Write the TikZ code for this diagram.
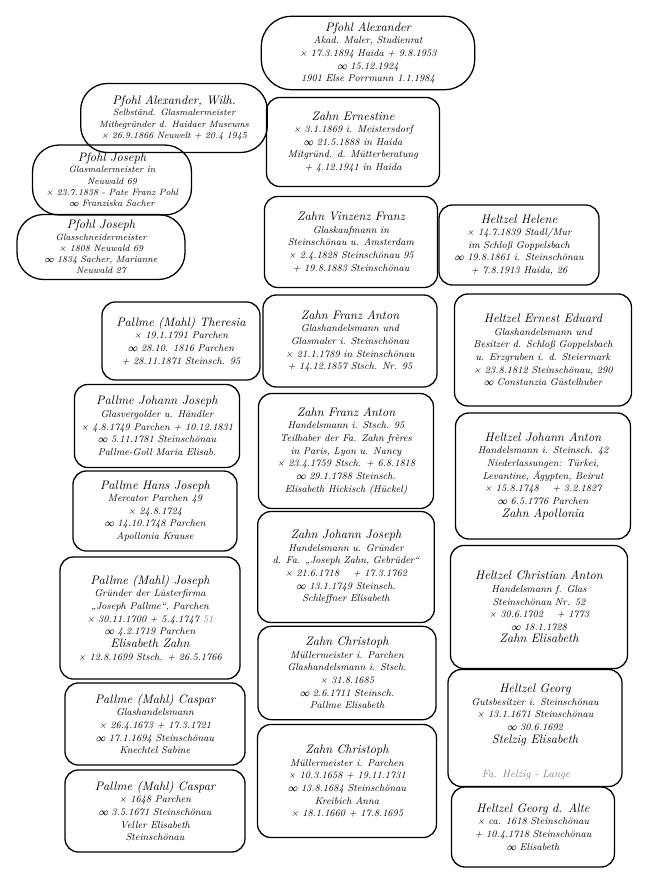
\documentclass[tikz,border=0pt]{standalone}
\usepackage{xcolor}
\usepackage{tikz}
\usetikzlibrary{positioning}
\tikzstyle{card} = [rectangle, rounded corners=0.4cm, draw=black, line width=1.1pt, align=center, inner sep=2pt, font=\itshape\fontsize{8.5}{10.8}\selectfont]
\tikzstyle{oval} = [card, rounded corners=0.8cm, font=\itshape\fontsize{7.8}{9.6}\selectfont]
\newcommand{\nm}[1]{{\fontsize{10.5}{12.5}\selectfont #1}}

\begin{document}
\begin{tikzpicture}[x=0.03cm, y=-0.03cm]
    \useasboundingbox (0,0) rectangle (663,884);

    % Pfohl
    \node (alex) [oval, rounded corners=0.9cm, font=\itshape\fontsize{8.5}{10.8}\selectfont, minimum width=6.4cm, minimum height=2.2cm] at (368,53)
        {\nm{Pfohl Alexander}\\ Akad. Maler, Studienrat\\ × 17.3.1894 Haida + 9.8.1953\\ ∞ 15.12.1924\\ 1901 Else Porrmann 1.1.1984};
    \node (wilh) [oval, minimum width=5.6cm, minimum height=2.07cm] at (174,118)
        {\nm{Pfohl Alexander, Wilh.}\\ Selbständ. Glasmalermeister\\ Mitbegründer d. Haidaer Museums\\ × 26.9.1866 Neuwelt + 20.4 1945};
    \node (jos1) [oval, minimum width=4.77cm, minimum height=2.1cm] at (112,180)
        {\nm{Pfohl Joseph}\\ Glasmalermeister in\\ Neuwald 69\\ × 23.7.1838 - Pate Franz Pohl\\ ∞ Franziska Sacher};
    \node (jos2) [oval, minimum width=5.04cm, minimum height=1.95cm] at (101,247)
        {\nm{Pfohl Joseph}\\ Glasschneidermeister\\ × 1808 Neuwald 69\\ ∞ 1834 Sacher, Marianne\\ Neuwald 27};

    % Zahn
    \node (ernest) [card, minimum width=5.19cm, minimum height=2.67cm] at (353,142)
        {\nm{Zahn Ernestine}\\ × 3.1.1869 i. Meistersdorf\\ ∞ 21.5.1888 in Haida\\ Mitgründ. d. Mütterberatung\\ + 4.12.1941 in Haida};
    \node (vinz) [card, minimum width=5.19cm, minimum height=2.73cm] at (351,242)
        {\nm{Zahn Vinzenz Franz}\\ Glaskaufmann in\\ Steinschönau u. Amsterdam\\ × 2.4.1828 Steinschönau 95\\ + 19.8.1883 Steinschönau};
    \node (fa1) [card, minimum width=5.22cm, minimum height=2.76cm] at (350,341)
        {\nm{Zahn Franz Anton}\\ Glashandelsmann und\\ Glasmaler i. Steinschönau\\ × 21.1.1789 in Steinschönau\\ + 14.12.1857 Stsch. Nr. 95};
    \node (fa2) [card, minimum width=5.25cm, minimum height=3.45cm] at (346,451)
        {\nm{Zahn Franz Anton}\\ Handelsmann i. Stsch. 95\\ Teilhaber der Fa. Zahn frères\\ in Paris, Lyon u. Nancy\\ × 23.4.1759 Stsch. + 6.8.1818\\ ∞ 29.1.1788 Steinsch.\\ Elisabeth Hickisch (Hückel)};
    \node (jj) [card, minimum width=5.3cm, minimum height=3.33cm] at (346,567)
        {\nm{Zahn Johann Joseph}\\ Handelsmann u. Gründer\\ d. Fa. „Joseph Zahn, Gebrüder“\\ × 21.6.1718 \quad + 17.3.1762\\ ∞ 13.1.1749 Steinsch.\\ Schleffner Elisabeth};
    \node (chr1) [card, minimum width=5.34cm, minimum height=2.8cm] at (347,673)
        {\nm{Zahn Christoph}\\ Müllermeister i. Parchen\\ Glashandelsmann i. Stsch.\\ × 31.8.1685\\ ∞ 2.6.1711 Steinsch.\\ Pallme Elisabeth};
    \node (chr2) [card, minimum width=5.37cm, minimum height=3.39cm] at (347,781)
        {\nm{Zahn Christoph}\\ Müllermeister i. Parchen\\ × 10.3.1658 + 19.11.1731\\ ∞ 13.8.1684 Steinschönau\\ Kreibich Anna\\ × 18.1.1660 + 17.8.1695};

    % Pallme
    \node (ther) [card, minimum width=4.74cm, minimum height=2.34cm] at (181,341)
        {\nm{Pallme (Mahl) Theresia}\\ × 19.1.1791 Parchen\\ ∞ 28.10. 1816 Parchen\\ + 28.11.1871 Steinsch. 95};
    \node (johj) [card, minimum width=4.95cm, minimum height=2.49cm] at (157,426)
        {\nm{Pallme Johann Joseph}\\ Glasvergolder u. Händler\\ × 4.8.1749 Parchen + 10.12.1831\\ ∞ 5.11.1781 Steinschönau\\ Pallme-Goll Maria Elisab.};
    \node (hans) [card, minimum width=4.92cm, minimum height=2.4cm] at (155,511)
        {\nm{Pallme Hans Joseph}\\ Mercator Parchen 49\\ × 24.8.1724\\ ∞ 14.10.1748 Parchen\\ Apollonia Krause};
    \node (josm) [card, minimum width=5.4cm, minimum height=3.66cm] at (150,618)
        {\nm{Pallme (Mahl) Joseph}\\ Gründer der Lüsterfirma\\ „Joseph Pallme“, Parchen\\ × 30.11.1700 + 5.4.1747 {\color{gray}51}\\ ∞ 4.2.1719 Parchen\\ \nm{Elisabeth Zahn}\\ × 12.8.1699 Stsch. + 26.5.1766};
    \node (cas1) [card, minimum width=5.4cm, minimum height=2.46cm] at (155,724)
        {\nm{Pallme (Mahl) Caspar}\\ Glashandelsmann\\ × 26.4.1673 + 17.3.1721\\ ∞ 17.1.1694 Steinschönau\\ Knechtel Sabine};
    \node (cas2) [card, minimum width=5.4cm, minimum height=2.46cm] at (155,811)
        {\nm{Pallme (Mahl) Caspar}\\ × 1648 Parchen\\ ∞ 3.5.1671 Steinschönau\\ Veller Elisabeth\\ Steinschönau};

    % Heltzel
    \node (hel) [card, minimum width=4.8cm, minimum height=2.4cm] at (519,245)
        {\nm{Heltzel Helene}\\ × 14.7.1839 Stadl/Mur\\ im Schloß Goppelsbach\\ ∞ 19.8.1861 i. Steinschönau\\ + 7.8.1913 Haida, 26};
    \node (ede) [card, minimum width=5.31cm, minimum height=3.36cm] at (543,350)
        {\nm{Heltzel Ernest Eduard}\\ Glashandelsmann und\\ Besitzer d. Schloß Goppelsbach\\ u. Erzgruben i. d. Steiermark\\ × 23.8.1812 Steinschönau, 290\\ ∞ Constanzia Güstelhuber};
    \node (jan) [card, minimum width=5.25cm, minimum height=3.78cm] at (543,476)
        {\nm{Heltzel Johann Anton}\\ Handelsmann i. Steinsch. 42\\ Niederlassungen: Türkei,\\ Levantine, Ägypten, Beirut\\ × 15.8.1748 \quad + 3.2.1827\\ ∞ 6.5.1776 Parchen\\ \nm{Zahn Apollonia}};
    \node (can) [card, minimum width=5.31cm, minimum height=3.69cm] at (539,607)
        {\nm{Heltzel Christian Anton}\\ Handelsmann f. Glas\\ Steinschönau Nr. 52\\ × 30.6.1702 \quad + 1773\\ ∞ 18.1.1728\\ \nm{Zahn Elisabeth}};
    \node (geo) [card, minimum width=5.22cm, minimum height=3.51cm] at (535,728)
        {\nm{Heltzel Georg}\\ Gutsbesitzer i. Steinschönau\\ × 13.1.1671 Steinschönau\\ ∞ 30.6.1692\\ \nm{Stelzig Elisabeth}\\[14pt]};
    \node (note) [font=\itshape\small, text=gray] at (526,775) {Fa. Helzig - Lange};
    \node (alte) [card, minimum width=4.89cm, minimum height=2.4cm] at (533,827)
        {\nm{Heltzel Georg d. Alte}\\ × ca. 1618 Steinschönau\\ + 10.4.1718 Steinschönau\\ ∞ Elisabeth};
\end{tikzpicture}
\end{document}
